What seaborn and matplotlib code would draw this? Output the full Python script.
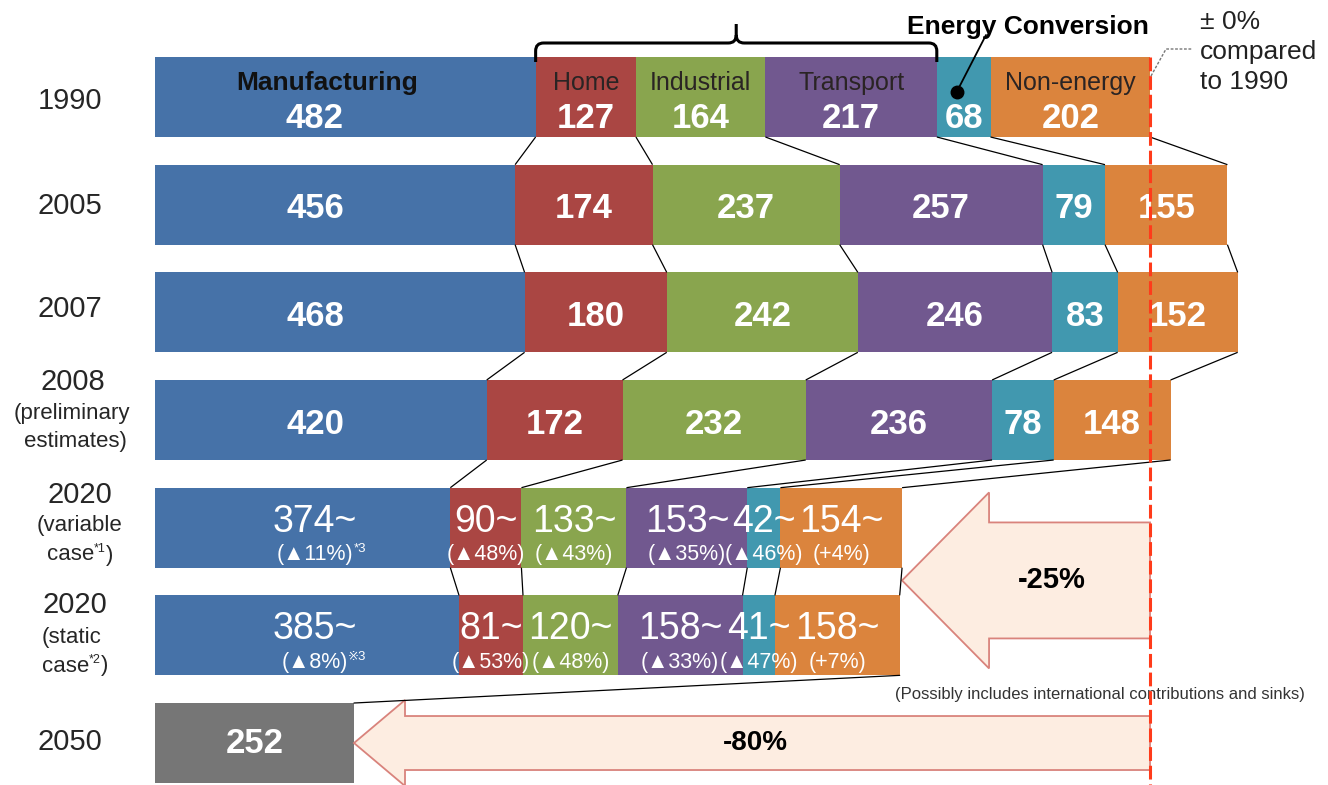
import numpy as np
import pandas as pd
import matplotlib
matplotlib.use("Agg")
import matplotlib.pyplot as plt
from matplotlib.patches import Polygon, PathPatch
from matplotlib.path import Path
import seaborn as sns

# ---- data (Mt CO2) -------------------------------------------------------
rows = ["1990", "2005", "2007", "2008", "2020v", "2020s", "2050"]
sectors = ["Manufacturing", "Home", "Industrial", "Transport",
           "Energy Conversion", "Non-energy"]
manufacturing = [482, 456, 468, 420, 374, 385, 0]
home = [127, 174, 180, 172, 90, 81, 0]
industrial = [164, 237, 242, 232, 133, 120, 0]
transport = [217, 257, 246, 236, 153, 158, 0]
energy_conversion = [68, 79, 83, 78, 42, 41, 0]
non_energy = [202, 155, 152, 148, 154, 158, 0]
target_2050 = [0, 0, 0, 0, 0, 0, 252]

value_suffix = ["", "", "", "", "~", "~", ""]
pct_variable = ["(▲11%)", "(▲48%)", "(▲43%)", "(▲35%)", "(▲46%)", "(+4%)"]
pct_static = ["(▲8%)", "(▲53%)", "(▲48%)", "(▲33%)", "(▲47%)", "(+7%)"]
note_variable = "*3"
note_static = "※3"
cut_2020 = "-25%"
cut_2050 = "-80%"

colors = ["#4672A8", "#AA4643", "#89A54E", "#71588F", "#4198AF", "#DB843D"]
gray = "#767676"

# ---- layout --------------------------------------------------------------
W, H = 1328, 785
PX_PER_UNIT = 0.7897      # horizontal pixels per Mt
X0_PX = 155               # pixel column of zero emissions
ROW0_PX, ROW_STEP_PX = 97, 107.67
BAR_H = 0.743


def px(x, y):
    """Convert a pixel position on the canvas into data coordinates."""
    return (x - X0_PX) / PX_PER_UNIT, (y - ROW0_PX) / ROW_STEP_PX


def pxx(x):
    return px(x, 0)[0]


def pxy(y):
    return px(0, y)[1]


def rows_px(d):
    return d / ROW_STEP_PX


sns.set_theme(style="white")
plt.rcParams["font.family"] = ["Liberation Sans", "DejaVu Sans", "Noto Sans CJK JP"]

fig = plt.figure(figsize=(W / 100, H / 100), dpi=100)
ax = fig.add_axes([0, 0, 1, 1])

df = pd.DataFrame({
    "row": rows,
    "Manufacturing": manufacturing,
    "Home": home,
    "Industrial": industrial,
    "Transport": transport,
    "Energy Conversion": energy_conversion,
    "Non-energy": non_energy,
    "2050": target_2050,
})
cum = df[sectors].cumsum(axis=1)

# stacked bars: draw cumulative layers from the outermost inwards
for k in reversed(range(len(sectors))):
    sns.barplot(x=cum[sectors[k]], y=df["row"], order=rows, orient="h",
                color=colors[k], saturation=1, width=BAR_H, errorbar=None,
                linewidth=0, ax=ax)
sns.barplot(x=df["2050"], y=df["row"], order=rows, orient="h", color=gray,
            saturation=1, width=BAR_H, errorbar=None, linewidth=0, ax=ax)

ax.set_xlim(pxx(0), pxx(W))
ax.set_ylim(pxy(H), pxy(0))
ax.axis("off")

# ---- connector lines between consecutive bars -----------------------------
bounds = cum.values
for r in range(5):
    for k in range(len(sectors)):
        ax.plot([bounds[r, k], bounds[r + 1, k]],
                [r + BAR_H / 2, r + 1 - BAR_H / 2],
                color="black", lw=0.9, zorder=3, solid_capstyle="butt")
ax.plot([bounds[5, -1], target_2050[6]], [5 + BAR_H / 2, 6 - BAR_H / 2],
        color="black", lw=0.9, zorder=3)

# ---- reduction arrows ----------------------------------------------------
base_1990 = bounds[0, -1]


def block_arrow(tip_x, yc, head_len, head_half, shaft_half, label, lx, fs):
    bx = tip_x + head_len
    pts = [(tip_x, yc), (bx, yc - head_half), (bx, yc - shaft_half),
           (base_1990, yc - shaft_half), (base_1990, yc + shaft_half),
           (bx, yc + shaft_half), (bx, yc + head_half)]
    ax.add_patch(Polygon(pts, closed=True, facecolor="#FDEDE1",
                         edgecolor="#D9837C", lw=1.3, zorder=2))
    ax.text(lx, yc, label, ha="center", va="center", fontsize=fs,
            fontweight="bold", color="black", zorder=4)


block_arrow(bounds[4, -1], 4.49, pxx(990) - pxx(903), rows_px(88),
            rows_px(58), cut_2020, pxx(1052), 21)
block_arrow(target_2050[6], 6.0, pxx(405) - pxx(354), rows_px(43),
            rows_px(27), cut_2050, pxx(755), 20)

# 1990 reference level
ax.plot([base_1990, base_1990], [-BAR_H / 2, pxy(H)], color="#FF3B1A",
        lw=2.2, ls=(0, (4.5, 1.6)), zorder=5)
lx, ly = zip(px(1151, 76), px(1166, 49), px(1192, 49))
ax.plot(lx, ly, color="#777777", lw=1, ls=(0, (2, 1.2)), zorder=5)
for txt, y in [("± 0%", 22), ("compared", 52), ("to 1990", 82)]:
    ax.text(pxx(1200), pxy(y), txt, ha="left", va="center", fontsize=19,
            color="#222222")

ax.text(pxx(1305), pxy(694),
        "(Possibly includes international contributions and sinks)",
        ha="right", va="center", fontsize=12, color="#333333")

# ---- bracket over the demand-side sectors ---------------------------------
bx0, bx1 = bounds[0, 0], bounds[0, 3]
bm = (bx0 + bx1) / 2
ytop, ybot, ypeak = pxy(43), pxy(62), pxy(24)
c = pxx(8) - pxx(0)
cy = rows_px(8)
verts = [(bx0, ybot), (bx0, ytop + cy), (bx0, ytop), (bx0 + c, ytop),
         (bm - c, ytop), (bm, ytop), (bm, ytop - cy), (bm, ypeak),
         (bm, ytop - cy), (bm, ytop), (bm + c, ytop),
         (bx1 - c, ytop), (bx1, ytop), (bx1, ytop + cy), (bx1, ybot)]
codes = [Path.MOVETO, Path.LINETO, Path.CURVE3, Path.CURVE3,
         Path.LINETO, Path.CURVE3, Path.CURVE3, Path.LINETO,
         Path.MOVETO, Path.CURVE3, Path.CURVE3,
         Path.LINETO, Path.CURVE3, Path.CURVE3, Path.LINETO]
ax.add_patch(PathPatch(Path(verts, codes), facecolor="none",
                       edgecolor="black", lw=2.2, zorder=4))

# Energy Conversion call-out
e_mid = (bounds[0, 3] + bounds[0, 4]) / 2
dot = (e_mid - (pxx(7) - pxx(0)), pxy(92))
ax.plot([dot[0], pxx(986)], [dot[1], pxy(35)], color="black", lw=1.3, zorder=6)
ax.plot(*dot, marker="o", ms=9, color="black", zorder=6)
ax.text(pxx(1028), pxy(27), "Energy Conversion", ha="center", va="center",
        fontsize=19, fontweight="bold", color="black")

# ---- segment labels ------------------------------------------------------
manu_x = pxx(315)
for r in range(6):
    vals = df.loc[r, sectors].values
    lefts = np.concatenate([[0], bounds[r, :-1]])
    for k in range(len(sectors)):
        x = manu_x if k == 0 else lefts[k] + vals[k] / 2
        if r == 0:
            yv, weight, fs = r + rows_px(21), "bold", 25
        elif r < 4:
            yv, weight, fs = r + rows_px(4), "bold", 25
        else:
            yv, weight, fs = r - rows_px(6), "normal", 27
        ax.text(x, yv, f"{vals[k]}{value_suffix[r]}", ha="center",
                va="center", fontsize=fs, fontweight=weight, color="white",
                zorder=4)
        if r >= 4:
            pct = pct_variable if r == 4 else pct_static
            t = ax.text(x, r + rows_px(27), pct[k], ha="center", va="center",
                        fontsize=15.5, color="white", zorder=4)
            if k == 0:
                note = note_variable if r == 4 else note_static
                ax.annotate(note, xy=(1, 0.75), xycoords=t, ha="left",
                            va="center", fontsize=9.5, color="white", zorder=4)

# sector names in the 1990 bar
ax.text(pxx(327), rows_px(-14), "Manufacturing", ha="center", va="center",
        fontsize=19, fontweight="bold", color="#111111", zorder=4)
for k in [1, 2, 3, 5]:
    ax.text(bounds[0, k - 1] + df.loc[0, sectors[k]] / 2, rows_px(-14),
            sectors[k], ha="center", va="center", fontsize=18,
            color="#2a2424", zorder=4)

ax.text(target_2050[6] / 2, 6, str(target_2050[6]), ha="center",
        va="center", fontsize=25, fontweight="bold", color="white", zorder=4)

# ---- row labels ----------------------------------------------------------
big, small = 21, 16
ax.text(pxx(70), pxy(101), "1990", ha="center", va="center", fontsize=big)
ax.text(pxx(70), pxy(206), "2005", ha="center", va="center", fontsize=big)
ax.text(pxx(70), pxy(309), "2007", ha="center", va="center", fontsize=big)
ax.text(pxx(73), pxy(382), "2008", ha="center", va="center", fontsize=big)
ax.text(pxx(72), pxy(413), "(preliminary", ha="center", va="center", fontsize=small)
ax.text(pxx(75), pxy(441), "estimates)", ha="center", va="center", fontsize=small)
ax.text(pxx(80), pxy(495), "2020", ha="center", va="center", fontsize=big)
ax.text(pxx(80), pxy(525), "(variable", ha="center", va="center", fontsize=small)
ax.text(pxx(75), pxy(605), "2020", ha="center", va="center", fontsize=big)
ax.text(pxx(72), pxy(637), "(static", ha="center", va="center", fontsize=small)
ax.text(pxx(70), pxy(742), "2050", ha="center", va="center", fontsize=big)

for x, y, note in [(94, 555, "*1"), (89, 666, "*2")]:
    t1 = ax.text(pxx(x), pxy(y), "case", ha="right", va="center", fontsize=small)
    sup = ax.annotate(note, xy=(1, 0.8), xycoords=t1, ha="left", va="center",
                      fontsize=9)
    ax.annotate(")", xy=(1, 0), xycoords=(sup, t1), ha="left", va="bottom",
                fontsize=small)

fig.savefig("out.png", dpi=100)
